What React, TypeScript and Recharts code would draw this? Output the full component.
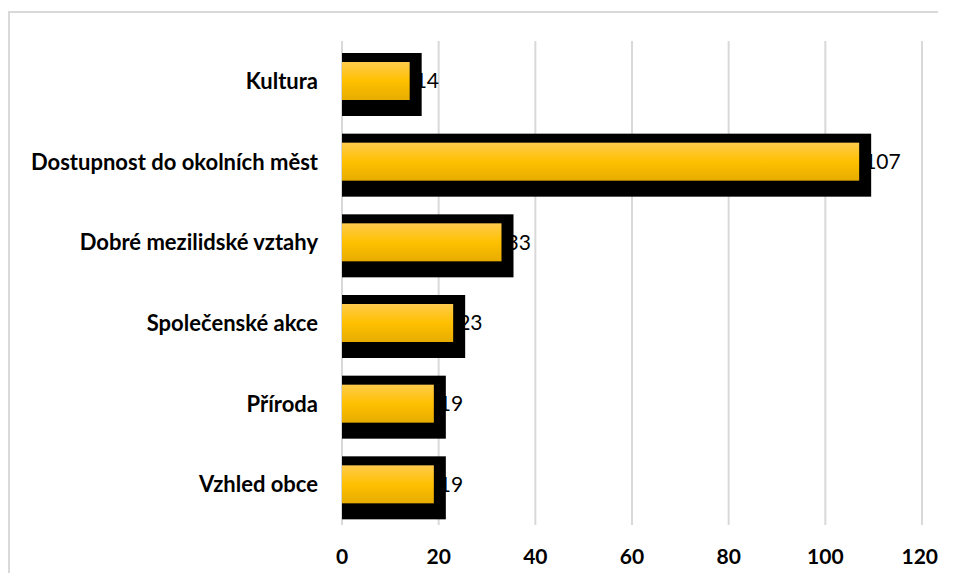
import React from "react";
import { BarChart, Bar, XAxis, YAxis, CartesianGrid, LabelList } from "recharts";

const categories = [
  "Kultura",
  "Dostupnost do okolních měst",
  "Dobré mezilidské vztahy",
  "Společenské akce",
  "Příroda",
  "Vzhled obce",
];
const values = [14, 107, 33, 23, 19, 19];
const xTicks = [0, 20, 40, 60, 80, 100, 120];

const data = categories.map((name, i) => ({ name, value: values[i] }));

const FONT = "Lato, 'Open Sans', sans-serif";

const FramedBar = (props: any) => {
  const { x, y, width, height } = props;
  if (width == null || height == null) return null;
  return (
    <g>
      <rect x={x} y={y - 9} width={width + 12} height={height + 25} fill="#000" />
      <rect x={x} y={y} width={width} height={height} fill="url(#goldGrad)" />
    </g>
  );
};

export default function App() {
  return (
    <div style={{ position: "relative", width: 930, height: 565 }}>
      <div style={{ position: "absolute", left: 0, top: 3, width: 2, height: 562, background: "#d9d9d9" }} />
      <div style={{ position: "absolute", left: 0, top: 3, width: 930, height: 2, background: "#d9d9d9" }} />
      <div style={{ position: "absolute", left: 0, top: 0 }}>
        <BarChart
          width={930}
          height={565}
          layout="vertical"
          data={data}
          margin={{ top: 33, right: 16, bottom: 0, left: 0 }}
        >
          <defs>
            <linearGradient id="goldGrad" x1="0" y1="0" x2="0" y2="1">
              <stop offset="0%" stopColor="#FFCB4C" />
              <stop offset="50%" stopColor="#FFC000" />
              <stop offset="100%" stopColor="#E6AC00" />
            </linearGradient>
          </defs>
          <CartesianGrid horizontal={false} stroke="#d9d9d9" strokeWidth={2} />
          <XAxis
            type="number"
            domain={[0, 120]}
            ticks={xTicks}
            axisLine={false}
            tickLine={false}
            tickSize={0}
            tickMargin={24}
            height={48}
            tick={{ fill: "#000", fontSize: 21, fontWeight: 700, fontFamily: FONT }}
          />
          <YAxis
            type="category"
            dataKey="name"
            width={334}
            axisLine={false}
            tickLine={false}
            tickSize={0}
            tickMargin={24}
            tick={{ fill: "#000", fontSize: 22, fontWeight: 700, fontFamily: FONT }}
          />
          <Bar dataKey="value" barSize={38} shape={<FramedBar />} isAnimationActive={false}>
            <LabelList
              dataKey="value"
              position="right"
              offset={5}
              style={{ fill: "#000", fontSize: 21, fontFamily: FONT }}
            />
          </Bar>
        </BarChart>
      </div>
    </div>
  );
}
